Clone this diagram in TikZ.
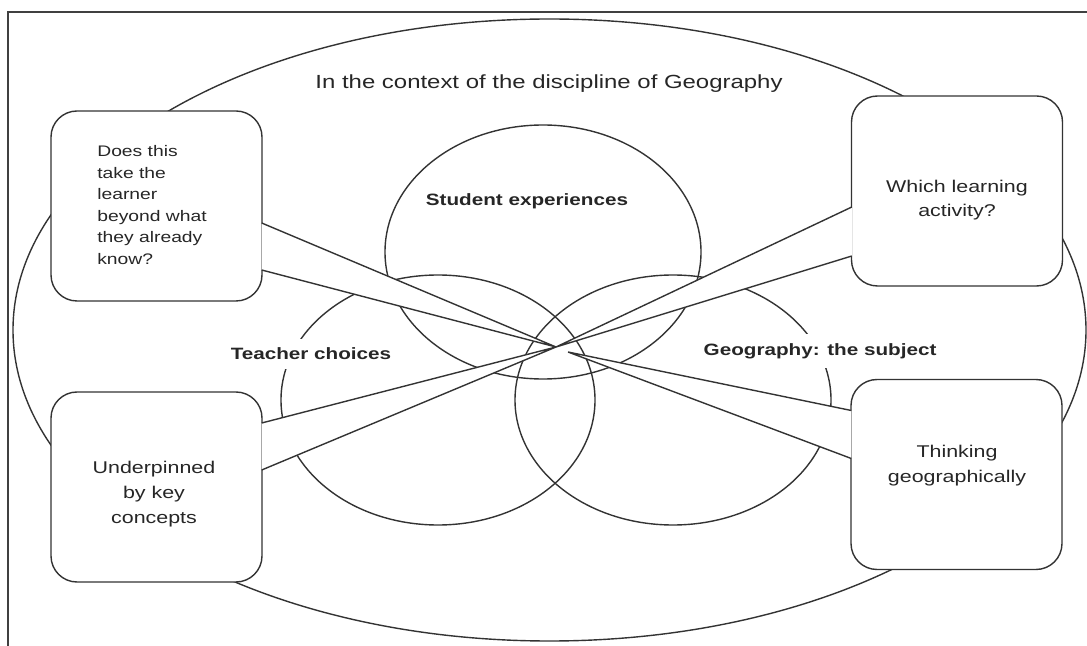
\documentclass[tikz,border=0pt]{standalone}
\usepackage{fontspec}
\setmainfont{Liberation Sans}[FakeStretch=1.26]
\usetikzlibrary{calc}

\begin{document}
\begin{tikzpicture}[x=0.5pt,y=-0.5pt,line width=0.7pt,
  every node/.style={text=black!85},
  venn/.style={draw=black!80},
  callout/.style={draw=black!80,fill=white,rounded corners=13pt,
    minimum width=105.5pt,minimum height=95pt,inner sep=0pt},
  tail/.style={draw=black!80,fill=white,line join=miter},
  venntext/.style={fill=white,inner sep=4.5pt,font=\bfseries\fontsize{8.2}{10}\selectfont},
  smalltext/.style={font=\fontsize{8.5}{12.5}\selectfont,align=center}]
\useasboundingbox (0,0) rectangle (1087,646);
% frame of the figure
\draw[black!75] (8,646) -- (8,12) -- (1087,12);
% discipline
\draw[venn] (549.5,330) ellipse (536.5 and 311);
\node[font=\fontsize{9.5}{11}\selectfont] (context) at (549,84)
  {In the context of the discipline of Geography};
% the three circles
\draw[venn] (543,252) ellipse (158 and 127);
\draw[venn] (438,400) ellipse (157 and 125);
\draw[venn] (673,400) ellipse (158 and 125);
\node[venntext] (student) at (527,201) {Student experiences};
\node[venntext] (teacher) at (311,354) {Teacher choices};
\node[venntext,anchor=west] (subject) at (694,351) {Geography: the subject};
% callouts
\node[callout] (q1) at (156.5,206) {};
\node[callout] (q2) at (957,191) {};
\node[callout] (q3) at (156.5,487) {};
\node[callout] (q4) at (956.5,474.5) {};
\coordinate (hub) at (556,347);
\coordinate (hubb) at (568,352);
\draw[tail] ($(q1.east)+(-1,17)$) -- (hub) -- ($(q1.east)+(-1,64)$);
\draw[tail] ($(q2.west)+(1,16)$) -- (hub) -- ($(q2.west)+(1,65)$);
\draw[tail] ($(q3.east)+(-1,-64)$) -- (hub) -- ($(q3.east)+(-1,-17)$);
\draw[tail] ($(q4.west)+(1,-64)$) -- (hubb) -- ($(q4.west)+(1,-16)$);
\node[font=\fontsize{7.65}{10.8}\selectfont,align=left] (t1) at (152,205)
  {Does this\\take the\\learner\\beyond what\\they already\\know?};
\node[smalltext,font=\fontsize{8.5}{11.8}\selectfont] (t2) at (957,200) {Which learning\\activity?};
\node[smalltext] (t3) at (154,494) {Underpinned\\by key\\concepts};
\node[smalltext] (t4) at (957,466) {Thinking\\geographically};
\end{tikzpicture}
\end{document}
